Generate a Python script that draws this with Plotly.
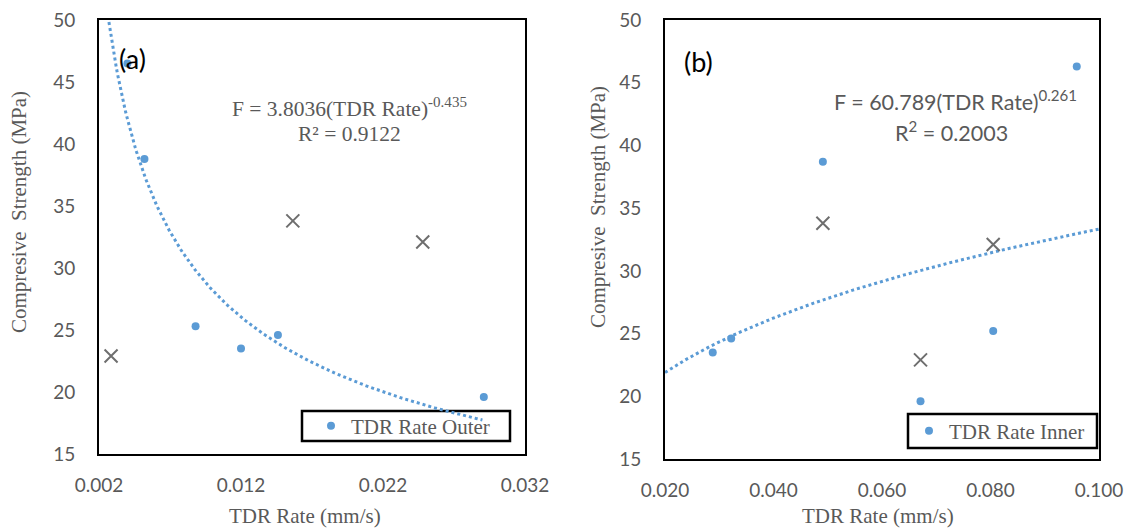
import numpy as np
import plotly.graph_objects as go

# ---------------- data ----------------
outer_rate = [0.0040, 0.0052, 0.0088, 0.0120, 0.0146, 0.0291]
outer_strength = [46.5, 38.8, 25.3, 23.5, 24.6, 19.6]
outer_x_rate = [0.00285, 0.01565, 0.0248]
outer_x_strength = [22.9, 33.8, 32.1]

inner_rate = [0.0288, 0.0322, 0.0491, 0.0671, 0.0805, 0.0959]
inner_strength = [23.5, 24.6, 38.7, 19.6, 25.2, 46.3]
inner_x_rate = [0.0491, 0.0671, 0.0805]
inner_x_strength = [33.8, 22.9, 32.1]

# power trendlines as printed on the chart
outer_coef, outer_exp = 3.8036, -0.435
inner_coef, inner_exp = 60.789, 0.261
outer_fit_range = [0.0027, 0.0290]
inner_fit_range = [0.020, 0.100]

x1_ticks = [0.002, 0.012, 0.022, 0.032]
x2_ticks = [0.020, 0.040, 0.060, 0.080, 0.100]
y_ticks = [15, 20, 25, 30, 35, 40, 45, 50]

# ---------------- style ----------------
BLUE = "#5B9BD5"
CROSS = "#6E6E6E"
TXT = "#595959"
SERIF = "Liberation Serif"
SANS = "Lato"
W, H = 1131, 529
ML, MR, MT, MB = 40, 20, 20, 70
PW = W - ML - MR
PH = H - MT - MB


def px(xp):
    return (xp - ML) / PW


def py(yp):
    return (H - MB - yp) / PH


fig = go.Figure()

of = np.linspace(outer_fit_range[0], outer_fit_range[1], 300)
fig.add_trace(go.Scatter(x=of, y=outer_coef * of ** outer_exp, mode="lines",
                         line=dict(color=BLUE, width=3, dash="3px,3px"),
                         showlegend=False, hoverinfo="skip", xaxis="x", yaxis="y"))
fig.add_trace(go.Scatter(x=outer_rate, y=outer_strength, mode="markers",
                         marker=dict(color=BLUE, size=8), name="TDR Rate Outer",
                         legend="legend", xaxis="x", yaxis="y"))
fig.add_trace(go.Scatter(x=outer_x_rate, y=outer_x_strength, mode="markers",
                         marker=dict(symbol="x-thin", size=13, line=dict(color=CROSS, width=2)),
                         showlegend=False, xaxis="x", yaxis="y"))

inf = np.linspace(inner_fit_range[0], inner_fit_range[1], 300)
fig.add_trace(go.Scatter(x=inf, y=inner_coef * inf ** inner_exp, mode="lines",
                         line=dict(color=BLUE, width=3, dash="3px,3px"),
                         showlegend=False, hoverinfo="skip", xaxis="x2", yaxis="y2"))
fig.add_trace(go.Scatter(x=inner_rate, y=inner_strength, mode="markers",
                         marker=dict(color=BLUE, size=8), name="TDR Rate Inner",
                         legend="legend2", xaxis="x2", yaxis="y2"))
fig.add_trace(go.Scatter(x=inner_x_rate, y=inner_x_strength, mode="markers",
                         marker=dict(symbol="x-thin", size=13, line=dict(color=CROSS, width=2)),
                         showlegend=False, xaxis="x2", yaxis="y2"))

axis_common = dict(showline=True, linecolor="black", linewidth=2, mirror=True,
                   showgrid=False, zeroline=False, ticks="", automargin=False,
                   tickfont=dict(family=SANS, size=19, color=TXT))

legend_common = dict(xanchor="left", yanchor="middle", orientation="v",
                     borderwidth=0, bgcolor="rgba(0,0,0,0)",
                     font=dict(family=SERIF, size=21, color=TXT))

fig.update_layout(
    width=W, height=H,
    margin=dict(l=ML, r=MR, t=MT, b=MB),
    plot_bgcolor="white", paper_bgcolor="white",
    xaxis=dict(domain=[px(99), px(525)], range=[0.002, 0.032], tickvals=x1_ticks,
               tickformat=".3f", anchor="y", ticklabelstandoff=13, **axis_common),
    yaxis=dict(domain=[py(454), 1.0], range=[15, 50], tickvals=y_ticks,
               anchor="x", ticklabelstandoff=18, **axis_common),
    xaxis2=dict(domain=[px(665), px(1099)], range=[0.02, 0.1], tickvals=x2_ticks,
                tickformat=".3f", anchor="y2", ticklabelstandoff=13, **axis_common),
    yaxis2=dict(domain=[0.0, 1.0], range=[15, 50], tickvals=y_ticks,
                anchor="x2", ticklabelstandoff=18, **axis_common),
    legend=dict(x=px(311), y=py(426), **legend_common),
    legend2=dict(x=px(909), y=py(431), **legend_common),
)

# legend frames
frames = [(302, 411, 510, 441), (908, 414, 1097, 448)]
fig.update_layout(shapes=[
    dict(type="rect", xref="paper", yref="paper", x0=px(a), x1=px(c), y0=py(d), y1=py(b),
         line=dict(color="black", width=2.5), fillcolor="rgba(0,0,0,0)", layer="below")
    for (a, b, c, d) in frames
])

ann = []
ann.append(dict(text="(a)", x=px(132), y=py(58), font=dict(family=SANS, size=27, color="black")))
ann.append(dict(text="(b)", x=px(698), y=py(61), font=dict(family=SANS, size=27, color="black")))
ann.append(dict(text="F = 3.8036(TDR Rate)<sup>-0.435</sup>", x=px(349), y=py(107),
                font=dict(family=SERIF, size=21.5, color=TXT)))
ann.append(dict(text="R² = 0.9122", x=px(349), y=py(134),
                font=dict(family=SERIF, size=21.5, color=TXT)))
ann.append(dict(text="F = 60.789(TDR Rate)<sup>0.261</sup>", x=px(955), y=py(100),
                font=dict(family=SANS, size=21.5, color=TXT)))
ann.append(dict(text="R<sup>2</sup> = 0.2003", x=px(951), y=py(131),
                font=dict(family=SANS, size=21.5, color=TXT)))
ann.append(dict(text="TDR Rate (mm/s)", x=px(305), y=py(516),
                font=dict(family=SERIF, size=21, color=TXT)))
ann.append(dict(text="TDR Rate (mm/s)", x=px(878), y=py(516),
                font=dict(family=SERIF, size=21, color=TXT)))
ann.append(dict(text="Compresive  Strength (MPa)", x=px(19), y=py(212), textangle=-90,
                font=dict(family=SERIF, size=21, color=TXT)))
ann.append(dict(text="Compresive  Strength (MPa)", x=px(598), y=py(207), textangle=-90,
                font=dict(family=SERIF, size=21, color=TXT)))
for a in ann:
    a.update(xref="paper", yref="paper", showarrow=False, xanchor="center", yanchor="middle")
fig.update_layout(annotations=ann)

fig.write_html("out.html")
